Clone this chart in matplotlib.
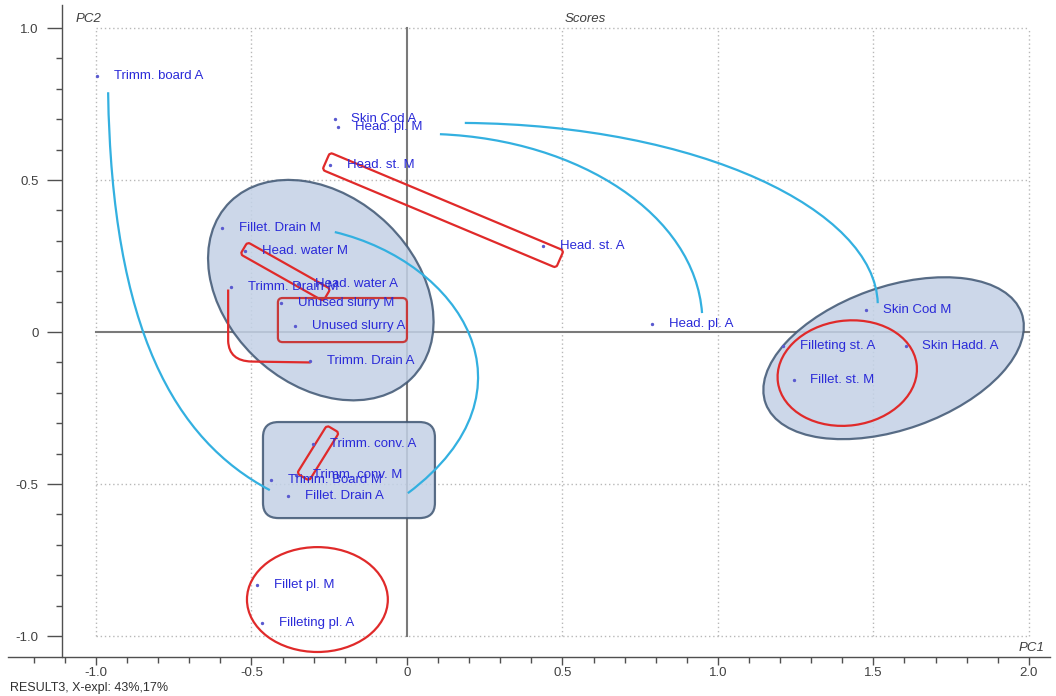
import matplotlib
matplotlib.use('Agg')
import matplotlib.pyplot as plt
from matplotlib.patches import Ellipse, FancyBboxPatch, PathPatch
from matplotlib.path import Path
from matplotlib.transforms import Affine2D
import numpy as np

# Scores (PC1, PC2) for each sample
labels = ['Trimm. board A', 'Skin Cod A', 'Head. pl. M', 'Head. st. M', 'Head. st. A',
          'Fillet. Drain M', 'Head. water M', 'Trimm. Drain M', 'Head. water A',
          'Unused slurry M', 'Unused slurry A', 'Trimm. Drain A', 'Head. pl. A',
          'Skin Cod M', 'Filleting st. A', 'Skin Hadd. A', 'Fillet. st. M',
          'Trimm. conv. A', 'Trimm. conv. M', 'Trimm. Board M', 'Fillet. Drain A',
          'Fillet pl. M', 'Filleting pl. A']
pc1 = [-0.997, -0.232, -0.222, -0.248, 0.437,
       -0.595, -0.520, -0.566, -0.350,
       -0.405, -0.360, -0.312, 0.788,
       1.476, 1.209, 1.604, 1.244,
       -0.302, -0.357, -0.437, -0.383,
       -0.482, -0.466]
pc2 = [0.842, 0.700, 0.674, 0.549, 0.283,
       0.342, 0.266, 0.148, 0.158,
       0.095, 0.020, -0.095, 0.026,
       0.072, -0.046, -0.046, -0.158,
       -0.368, -0.470, -0.487, -0.539,
       -0.832, -0.957]

x_ticks = [-1.0, -0.5, 0, 0.5, 1.0, 1.5, 2.0]
x_ticklabels = ['-1.0', '-0.5', '0', '0.5', '1.0', '1.5', '2.0']
y_ticks = [-1.0, -0.5, 0, 0.5, 1.0]
y_ticklabels = ['-1.0', '-0.5', '0', '0.5', '1.0']

# group outlines drawn over the scores (data units)
blue_ellipses = [((-0.277, 0.138), 0.823, 0.612, -45),
                 ((1.565, -0.086), 0.875, 0.469, 20)]
blue_box = (-0.463, -0.612, 0.553, 0.316)
red_ellipses = [((1.416, -0.135), 0.450, 0.345, 8),
                ((-0.288, -0.880), 0.453, 0.345, 0)]
red_bars = [(0.116, 0.401, 0.818, 0.062, -23.2),
            (-0.391, 0.199, 0.308, 0.046, -30.0),
            (-0.286, -0.398, 0.185, 0.046, 58.7)]
red_box = (-0.415, -0.033, 0.415, 0.145)
red_bracket = [(-0.575, 0.14), (-0.575, -0.03), (-0.572, -0.095), (-0.50, -0.097), (-0.31, -0.10)]

# cyan links between paired samples (cubic bezier control points)
links = [[(-0.961, 0.789), (-0.949, 0.007), (-0.746, -0.355), (-0.441, -0.520)],
         [(-0.232, 0.329), (0.170, 0.230), (0.444, -0.191), (0.003, -0.530)],
         [(0.106, 0.651), (0.556, 0.632), (0.926, 0.385), (0.949, 0.0625)],
         [(0.186, 0.688), (0.942, 0.681), (1.505, 0.401), (1.514, 0.095)]]

plt.rcParams['font.family'] = ['Liberation Sans', 'DejaVu Sans']

fig = plt.figure(figsize=(10.56, 6.96), dpi=100)
ax = fig.add_axes([8 / 1056, 39 / 696, 1042 / 1056, 652 / 696])
ax.set_xlim(-1.283, 2.068)
ax.set_ylim(-1.069, 1.076)

# axes style
for s in ['top', 'right']:
    ax.spines[s].set_visible(False)
ax.spines['left'].set_position(('data', -1.109))
for s in ['left', 'bottom']:
    ax.spines[s].set_color('#505050')
    ax.spines[s].set_linewidth(1.0)

ax.set_xticks(x_ticks)
ax.set_xticklabels(x_ticklabels)
ax.set_yticks(y_ticks)
ax.set_yticklabels(y_ticklabels)
ax.set_xticks(np.round(np.arange(-1.2, 2.01, 0.1), 2), minor=True)
ax.set_yticks(np.round(np.arange(-1.0, 1.01, 0.1), 2), minor=True)
ax.tick_params(which='major', width=1, color='#505050', labelsize=9.5,
               labelcolor='#404040')
ax.tick_params(which='minor', length=4, width=1, color='#505050')
ax.tick_params(axis='y', which='major', length=11, pad=6)
ax.tick_params(axis='x', which='major', length=6, pad=1)

# grid: dotted, only inside the data box
for gx in [-1.0, -0.5, 0.5, 1.0, 1.5, 2.0]:
    ax.plot([gx, gx], [-1.0, 1.0], ls=(0, (1, 2)), color='#b8b8b8', lw=1, zorder=1)
for gy in [-1.0, -0.5, 0.5, 1.0]:
    ax.plot([-1.0, 2.0], [gy, gy], ls=(0, (1, 2)), color='#b8b8b8', lw=1, zorder=1)
ax.plot([0, 0], [-1.0, 1.0], color='#7a7a7a', lw=1.5, zorder=1)
ax.plot([-1.0, 2.0], [0, 0], color='#7a7a7a', lw=1.5, zorder=1)

# blue group shapes
fill = '#c3d1e6'
edge = '#3e5572'
for (c, w, h, a) in blue_ellipses:
    ax.add_patch(Ellipse(c, w, h, angle=a, facecolor=fill, edgecolor=edge,
                         lw=1.6, alpha=0.85, zorder=2))
bx, by, bw, bh = blue_box
ax.add_patch(FancyBboxPatch((bx, by), bw, bh, boxstyle='round,pad=0,rounding_size=0.05',
                            facecolor=fill, edgecolor=edge, lw=1.6, alpha=0.85, zorder=2))

# red group shapes
red = '#e02a2a'
for (c, w, h, a) in red_ellipses:
    ax.add_patch(Ellipse(c, w, h, angle=a, facecolor='none', edgecolor=red, lw=1.6, zorder=3))
for (cx, cy, L, W, a) in red_bars:
    p = FancyBboxPatch((cx - L / 2, cy - W / 2), L, W,
                       boxstyle='round,pad=0,rounding_size=0.01',
                       facecolor='none', edgecolor=red, lw=1.6, zorder=3)
    p.set_transform(Affine2D().rotate_deg_around(cx, cy, a) + ax.transData)
    ax.add_patch(p)
rx, ry, rw, rh = red_box
ax.add_patch(FancyBboxPatch((rx, ry), rw, rh, boxstyle='round,pad=0,rounding_size=0.015',
                            facecolor='none', edgecolor='#c83a3a', lw=1.6, zorder=3))
br = Path(red_bracket, [Path.MOVETO, Path.LINETO, Path.CURVE3, Path.CURVE3, Path.LINETO])
ax.add_patch(PathPatch(br, facecolor='none', edgecolor=red, lw=1.6, zorder=3))

# cyan links
for pts in links:
    path = Path(pts, [Path.MOVETO, Path.CURVE4, Path.CURVE4, Path.CURVE4])
    ax.add_patch(PathPatch(path, facecolor='none', edgecolor='#33b0e0', lw=1.6, zorder=3))

# scores and labels
ax.scatter(pc1, pc2, s=2, color='#5a5ad0', zorder=4)
for name, x, y in zip(labels, pc1, pc2):
    ax.annotate(name, (x, y), xytext=(12, 0), textcoords='offset points',
                va='center', ha='left', fontsize=9.5, color='#2a2ad8', zorder=5)

# titles
ax.text(-1.067, 1.03, 'PC2', fontsize=9.5, style='italic', color='#404040', ha='left', va='center')
ax.text(0.572, 1.03, 'Scores', fontsize=9.5, style='italic', color='#404040', ha='center', va='center')
ax.text(2.05, -1.039, 'PC1', fontsize=9.5, style='italic', color='#404040', ha='right', va='center')
fig.text(10 / 1056, 1 - 688 / 696, 'RESULT3, X-expl: 43%,17%', fontsize=9, color='#303030',
         ha='left', va='center')

fig.savefig('out.png', dpi=100)
